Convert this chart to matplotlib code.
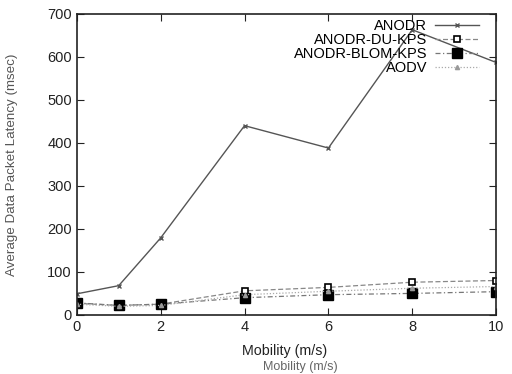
"""
Average data packet latency vs mobility
"""

# Imports
import matplotlib
matplotlib.use('Agg')
import matplotlib.pyplot as plt

# Data
mobility = [0, 1, 2, 4, 6, 8, 10]
anodr = [49, 68, 179, 440, 388, 663, 587]
anodr_du_kps = [27, 22, 25, 56, 64, 76, 80]
anodr_blom_kps = [28, 22, 25, 40, 47, 50, 54]
aodv = [25, 20, 22, 47, 55, 62, 66]

x_ticks = [0, 2, 4, 6, 8, 10]
y_ticks = [0, 100, 200, 300, 400, 500, 600, 700]

plt.rcParams['font.family'] = ['Liberation Sans', 'DejaVu Sans']

fig = plt.figure(figsize=(5.12, 3.74), dpi=100)
ax = fig.add_axes([0.150, 0.158, 0.819, 0.805])

# Series
ax.plot(mobility, anodr, color='#555555', lw=1.0, ls='-', marker='x', ms=3, label='ANODR')
ax.plot(mobility, anodr_du_kps, color='#888888', lw=0.9, ls=(0, (4, 2)), marker='s', ms=5,
        mfc='white', mec='black', mew=1.2, label='ANODR-DU-KPS')
ax.plot(mobility, anodr_blom_kps, color='#777777', lw=0.9, ls=(0, (4, 2, 1, 2)), marker='s', ms=6.5,
        mfc='black', mec='black', label='ANODR-BLOM-KPS')
ax.plot(mobility, aodv, color='#aaaaaa', lw=0.9, ls=(0, (1, 1.5)), marker='^', ms=3,
        mfc='#999999', mec='#999999', label='AODV')

# Axes
ax.set_xlim(0, 10)
ax.set_ylim(0, 700)
ax.set_xticks(x_ticks)
ax.set_yticks(y_ticks)
ax.tick_params(direction='in', top=True, right=True, length=5, labelsize=10.5, colors='#222222')
for spine in ax.spines.values():
    spine.set_linewidth(1.2)
    spine.set_color('#222222')

ax.set_xlabel('Mobility (m/s)', fontsize=10.3, color='#222222')
ax.xaxis.set_label_coords(0.496, -0.095)
ax.set_ylabel('Average Data Packet Latency (msec)', fontsize=9.6, color='#555555')
ax.yaxis.set_label_coords(-0.141, 0.5)

# Ghost of the axis label (scan artifact)
fig.text(0.586, 0.004, 'Mobility (m/s)', fontsize=9, color='#666666', ha='center', va='bottom')

ax.legend(loc='upper right', frameon=False, markerfirst=False, fontsize=10.5,
          handlelength=3.0, labelspacing=0.0, borderaxespad=0.3, handletextpad=0.55,
          bbox_to_anchor=(0.983, 1.017))

plt.savefig('out.png', dpi=100)
plt.close()
